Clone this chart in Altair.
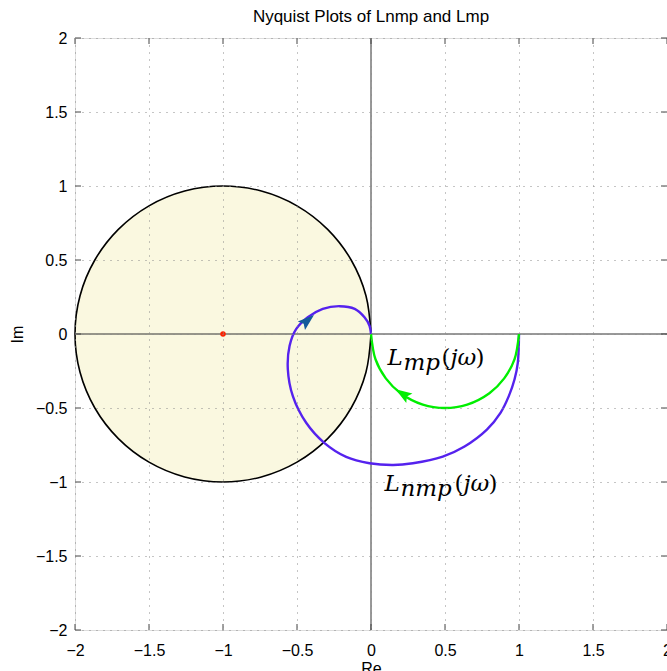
import altair as alt
import pandas as pd

# ---------------- data ----------------
TICKS = [-2, -1.5, -1, -0.5, 0, 0.5, 1, 1.5, 2]

# unit circle centred at -1 (outline)
circle_re = [0.0, -0.034, -0.134, -0.293, -0.5, -0.741, -1.0, -1.259, -1.5, -1.707, -1.866, -1.966,
             -2.0, -1.966, -1.866, -1.707, -1.5, -1.259, -1.0, -0.741, -0.5, -0.293, -0.134, -0.034, 0.0]
circle_im = [0.0, 0.259, 0.5, 0.707, 0.866, 0.966, 1.0, 0.966, 0.866, 0.707, 0.5, 0.259,
             0.0, -0.259, -0.5, -0.707, -0.866, -0.966, -1.0, -0.966, -0.866, -0.707, -0.5, -0.259, 0.0]

# shaded disc (upper / lower edge)
fill_re = [-2.0, -1.99, -1.966, -1.866, -1.707, -1.5, -1.259, -1.0, -0.741, -0.5, -0.293, -0.134, -0.034, -0.01, 0.0]
fill_top = [0.0, 0.141, 0.259, 0.5, 0.707, 0.866, 0.966, 1.0, 0.966, 0.866, 0.707, 0.5, 0.259, 0.141, 0.0]
fill_bot = [-v for v in fill_top]

# L_nmp(jw)
nmp_re = [1.0, 0.992, 0.97, 0.931, 0.875, 0.783, 0.632, 0.485, 0.283, 0.15, -0.01, -0.168, -0.314,
          -0.438, -0.528, -0.562, -0.55, -0.505, -0.427, -0.326, -0.213, -0.11, -0.044, -0.01, 0.0]
nmp_im = [0.0, -0.193, -0.306, -0.42, -0.533, -0.646, -0.76, -0.828, -0.873, -0.885, -0.873, -0.83, -0.737,
          -0.6, -0.42, -0.238, -0.08, 0.034, 0.113, 0.17, 0.188, 0.17, 0.113, 0.056, 0.0]

# L_mp(jw)
mp_re = [1.0, 0.97, 0.9, 0.8, 0.65, 0.5, 0.35, 0.2, 0.1, 0.03, 0.0]
mp_im = [0.0, -0.17, -0.3, -0.4, -0.477, -0.5, -0.477, -0.4, -0.3, -0.17, 0.0]

# arrows (position, direction in degrees clockwise from up)
arrow_re = [-0.43, 0.215]
arrow_im = [0.09, -0.405]
arrow_dir = [50, 303]
arrow_col = ["#135a9a", "#00ee00"]

crit_re = [-1.0]
crit_im = [0.0]

label_re = [0.111, 0.091]
label_im = [-0.211, -1.061]
label_sub = ["mp", "nmp"]

W, H = 592, 592
FONT = "Liberation Sans"

xs = alt.Scale(domain=[-2, 2], nice=False, zero=False)
ys = alt.Scale(domain=[-2, 2], nice=False, zero=False)

X_AXIS = alt.Axis(values=TICKS, format=".1~f", title="Re", grid=True, gridDash=[1, 6],
                  gridColor="#8a8a8a", ticks=False, domain=False, labelFontSize=16, labelPadding=12,
                  labelFlush=False, labelFont=FONT, titleFont=FONT, titleFontSize=16,
                  titleFontWeight="normal", titlePadding=2, zindex=1, labelColor="black",
                  titleColor="black")
Y_AXIS = alt.Axis(values=TICKS, format=".1~f", title="Im", grid=True, gridDash=[1, 6],
                  gridColor="#8a8a8a", ticks=False, domain=False, labelFontSize=16, labelPadding=8,
                  labelFlush=False, labelFont=FONT, titleFont=FONT, titleFontSize=16,
                  titleFontWeight="normal", titlePadding=10, zindex=1, labelColor="black",
                  titleColor="black")


def X(f):
    return alt.X(f, scale=xs, axis=X_AXIS, title="Re")


def Y(f):
    return alt.Y(f, scale=ys, axis=Y_AXIS, title="Im")


# ---------------- layers ----------------
df_fill = pd.DataFrame({"re": fill_re, "top": fill_top, "bot": fill_bot})
fill = alt.Chart(df_fill).mark_area(color="#faf8e0", interpolate="monotone").encode(
    x=X("re:Q"), y=Y("top:Q"), y2="bot:Q")

zero_v = alt.Chart(pd.DataFrame({"v": [0]})).mark_rule(color="#333333", strokeWidth=1).encode(x=X("v:Q"))
zero_h = alt.Chart(pd.DataFrame({"v": [0]})).mark_rule(color="#333333", strokeWidth=1).encode(y=Y("v:Q"))

df_circ = pd.DataFrame({"re": circle_re, "im": circle_im, "o": list(range(len(circle_re)))})
circ = alt.Chart(df_circ).mark_line(color="black", strokeWidth=1.6, interpolate="catmull-rom").encode(
    x=X("re:Q"), y=Y("im:Q"), order="o:Q")

df_nmp = pd.DataFrame({"re": nmp_re, "im": nmp_im, "o": list(range(len(nmp_re)))})
nmp = alt.Chart(df_nmp).mark_line(color="#5522ee", strokeWidth=2.4, interpolate="catmull-rom").encode(
    x=X("re:Q"), y=Y("im:Q"), order="o:Q")

df_mp = pd.DataFrame({"re": mp_re, "im": mp_im, "o": list(range(len(mp_re)))})
mp = alt.Chart(df_mp).mark_line(color="#00ee00", strokeWidth=2.4, interpolate="catmull-rom").encode(
    x=X("re:Q"), y=Y("im:Q"), order="o:Q")

ARROW = "M0,-1L0.65,0.9L0,0.55L-0.65,0.9Z"
arrows = []
for i in range(len(arrow_re)):
    d = pd.DataFrame({"re": [arrow_re[i]], "im": [arrow_im[i]]})
    arrows.append(alt.Chart(d).mark_point(shape=ARROW, filled=True, size=300, opacity=1,
                                          color=arrow_col[i], angle=arrow_dir[i]).encode(
        x=X("re:Q"), y=Y("im:Q")))

crit = alt.Chart(pd.DataFrame({"re": crit_re, "im": crit_im})).mark_point(
    shape="circle", filled=True, size=30, color="#ff2200", opacity=1).encode(x=X("re:Q"), y=Y("im:Q"))

# inward ticks on all four sides
df_t = pd.DataFrame({"t": TICKS})
tk = dict(color="#444444", strokeWidth=1)
t_bottom = alt.Chart(df_t).mark_rule(**tk).encode(x=X("t:Q"), y=alt.value(H), y2=alt.value(H - 6))
t_top = alt.Chart(df_t).mark_rule(**tk).encode(x=X("t:Q"), y=alt.value(0), y2=alt.value(6))
t_left = alt.Chart(df_t).mark_rule(**tk).encode(y=Y("t:Q"), x=alt.value(0), x2=alt.value(6))
t_right = alt.Chart(df_t).mark_rule(**tk).encode(y=Y("t:Q"), x=alt.value(W), x2=alt.value(W - 6))

# math labels L_{..}(jw)
SERIF = "DejaVu Serif"
labels = []
paren_dx = [54, 70]
for i in range(len(label_re)):
    d = pd.DataFrame({"re": [label_re[i]], "im": [label_im[i]]})
    enc = dict(x=X("re:Q"), y=Y("im:Q"))
    base = dict(align="left", baseline="alphabetic", color="black", font=SERIF)
    labels.append(alt.Chart(d).mark_text(text="L", fontSize=23, fontStyle="italic", **base).encode(**enc))
    labels.append(alt.Chart(d).mark_text(text=label_sub[i], fontSize=23, fontStyle="italic", dx=16, dy=5,
                                         **base).encode(**enc))
    off = paren_dx[i]
    labels.append(alt.Chart(d).mark_text(text="(", fontSize=23, dx=off, **base).encode(**enc))
    labels.append(alt.Chart(d).mark_text(text="jω", fontSize=23, fontStyle="italic", dx=off + 9,
                                         **base).encode(**enc))
    labels.append(alt.Chart(d).mark_text(text=")", fontSize=23, dx=off + 34, **base).encode(**enc))

chart = alt.layer(
    fill, zero_v, zero_h, circ, nmp, mp, *arrows, crit, t_bottom, t_top, t_left, t_right, *labels
).properties(
    width=W, height=H,
    title=alt.TitleParams("Nyquist Plots of Lnmp and Lmp", font=FONT, fontSize=17, fontWeight="normal",
                          anchor="middle", offset=4, color="black"),
    autosize=alt.AutoSizeParams(type="none"),
    padding={"left": 75, "top": 38, "right": 0, "bottom": 41},
).configure_view(stroke="#555555", strokeWidth=1).configure(background="white")

chart.save("out.html", embed_options={"renderer": "svg", "actions": False})
